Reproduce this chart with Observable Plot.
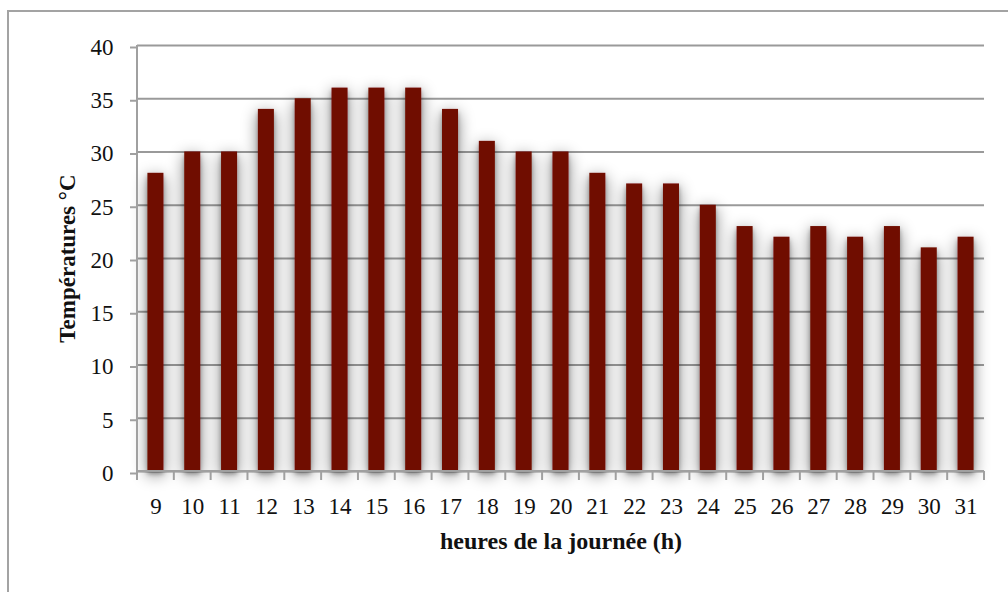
<!DOCTYPE html>
<html>
<head>
<meta charset="utf-8">
<script src="https://cdn.jsdelivr.net/npm/d3@7"></script>
<script src="https://cdn.jsdelivr.net/npm/@observablehq/plot@0.6"></script>
<style>
  html, body { margin: 0; padding: 0; background: #fff; }
  #wrap { position: relative; width: 1008px; height: 592px; overflow: hidden; }
  #border { position: absolute; left: 7px; top: 10px; width: 1020px; height: 600px; border: 2px solid #a3a3a3; box-sizing: border-box; }
  #chart { position: absolute; left: 0; top: 0; }
</style>
</head>
<body>
<div id="wrap">
  <div id="border"></div>
  <div id="chart"></div>
</div>
<script>
// Hour of the day and measured temperature (°C)
const hours = [9, 10, 11, 12, 13, 14, 15, 16, 17, 18, 19, 20, 21, 22, 23, 24, 25, 26, 27, 28, 29, 30, 31];
const temperatures = [28, 30, 30, 34, 35, 36, 36, 36, 34, 31, 30, 30, 28, 27, 27, 25, 23, 22, 23, 22, 23, 21, 22];
const yTicks = [0, 5, 10, 15, 20, 25, 30, 35, 40];
const xTitle = "heures de la journée (h)";
const yTitle = "Températures °C";

const data = hours.map((h, i) => ({h, t: temperatures[i]}));

const axisGray = "#a0a0a0";
const fontFamily = "'Liberation Serif', 'Times New Roman', serif";

// Axis lines plus tick marks placed on the boundaries between hour bands
function bandAxis(index, scales, values, dims) {
  const x = scales.x, y = scales.y;
  const bw = typeof x.bandwidth === "function" ? x.bandwidth() : 0;
  const bounds = hours.map(h => x(h)).concat([x(hours[hours.length - 1]) + bw]);
  const y0 = y(0);
  const g = d3.create("svg:g").attr("stroke", axisGray).attr("stroke-width", 2);
  g.append("line")
    .attr("x1", bounds[0]).attr("x2", bounds[bounds.length - 1])
    .attr("y1", y0).attr("y2", y0);
  g.append("line")
    .attr("x1", bounds[0]).attr("x2", bounds[0])
    .attr("y1", dims.marginTop).attr("y2", y0);
  g.selectAll("line.tick").data(bounds).join("line")
    .attr("class", "tick")
    .attr("x1", d => d).attr("x2", d => d)
    .attr("y1", y0).attr("y2", y0 + 9);
  return g.node();
}

const chart = Plot.plot({
  width: 1008,
  height: 592,
  marginLeft: 137,
  marginRight: 24,
  marginTop: 45,
  marginBottom: 121,
  style: {fontFamily, fontSize: "23px", color: "#111", background: "transparent", overflow: "visible"},
  x: {domain: hours, padding: 0, round: false},
  y: {domain: [0, 40]},
  marks: [
    Plot.gridY(yTicks, {stroke: "#9a9a9a", strokeWidth: 2, strokeOpacity: 1}),
    Plot.barY(data, {x: "h", y: "t", fill: "#700c02", insetLeft: 10.4, insetRight: 10.4}),
    bandAxis,
    Plot.axisY(yTicks, {tickSize: 7, tickPadding: 17, stroke: axisGray, strokeWidth: 2, label: null, fontSize: 23, dy: 2}),
    Plot.axisX({tickSize: 0, tickPadding: 26, label: null, fontSize: 23}),
    Plot.text([yTitle], {frameAnchor: "left", textAnchor: "middle", rotate: -90, dx: -70, fontWeight: "bold", fontSize: 23, letterSpacing: 1, fill: "#111", text: d => d}),
    Plot.text([xTitle], {frameAnchor: "bottom", textAnchor: "middle", dy: 77, fontWeight: "bold", fontSize: 24, fill: "#111", text: d => d})
  ]
});

// Soft shadow behind the bars: a tight dark halo plus a wide faint one
const svg = d3.select(chart);
const filter = svg.insert("defs", ":first-child").append("filter")
  .attr("id", "barShadow")
  .attr("filterUnits", "userSpaceOnUse")
  .attr("x", 0).attr("y", 0).attr("width", 1008).attr("height", 592);
filter.append("feGaussianBlur").attr("in", "SourceAlpha").attr("stdDeviation", 2).attr("result", "b1");
filter.append("feOffset").attr("in", "b1").attr("dx", 0).attr("dy", 3).attr("result", "o1");
filter.append("feComponentTransfer").attr("in", "o1").attr("result", "s1")
  .append("feFuncA").attr("type", "linear").attr("slope", 0.3);
filter.append("feGaussianBlur").attr("in", "SourceAlpha").attr("stdDeviation", 8).attr("result", "b2");
filter.append("feOffset").attr("in", "b2").attr("dx", 0).attr("dy", 4).attr("result", "o2");
filter.append("feComponentTransfer").attr("in", "o2").attr("result", "s2")
  .append("feFuncA").attr("type", "linear").attr("slope", 0.5);
const merge = filter.append("feMerge");
merge.append("feMergeNode").attr("in", "s2");
merge.append("feMergeNode").attr("in", "s1");
merge.append("feMergeNode").attr("in", "SourceGraphic");
svg.select('g[aria-label="bar"]').attr("filter", "url(#barShadow)");

document.getElementById("chart").appendChild(chart);
</script>
</body>
</html>
